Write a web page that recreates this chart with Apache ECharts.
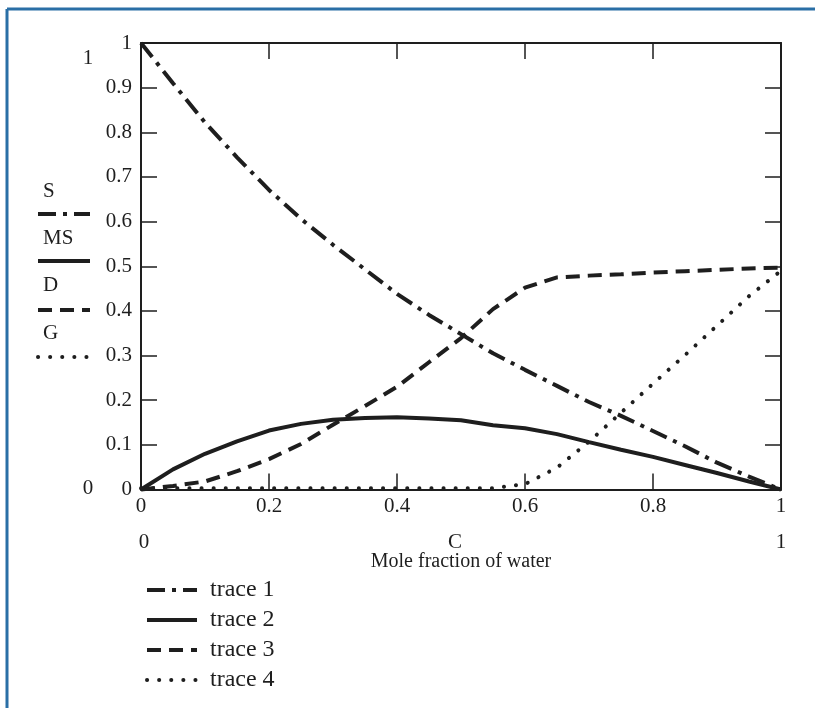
<!DOCTYPE html>
<html>
<head>
<meta charset="utf-8">
<script src="https://cdn.jsdelivr.net/npm/echarts@6/dist/echarts.min.js"></script>
<style>
html,body{margin:0;padding:0;background:#fff;}
#chart{width:815px;height:708px;}
</style>
</head>
<body>
<div id="chart"></div>
<script>
// ---- data ----
const xs = [0,0.05,0.1,0.15,0.2,0.25,0.3,0.35,0.4,0.45,0.5,0.55,0.6,0.65,0.7,0.75,0.8,0.85,0.9,0.95,1];
const S  = [1,0.91,0.822,0.744,0.671,0.606,0.548,0.493,0.438,0.391,0.348,0.305,0.268,0.232,0.196,0.165,0.131,0.097,0.06,0.029,0];
const MS = [0,0.045,0.08,0.108,0.132,0.147,0.156,0.16,0.162,0.159,0.155,0.144,0.137,0.124,0.106,0.089,0.073,0.055,0.037,0.018,0];
const D  = [0,0.008,0.018,0.041,0.068,0.102,0.145,0.187,0.23,0.285,0.339,0.404,0.452,0.475,0.479,0.482,0.486,0.489,0.492,0.495,0.497];
const G  = [0.003,0.003,0.003,0.003,0.003,0.003,0.003,0.003,0.003,0.003,0.003,0.003,0.012,0.049,0.107,0.172,0.237,0.301,0.367,0.433,0.49];
const traceNames = ['trace 1','trace 2','trace 3','trace 4'];
const sideLabels = ['S','MS','D','G'];

const FONT = '"Liberation Serif", "Times New Roman", serif';
const INK = '#1e1e1e';
const BLUE = '#2a6fa6';

const dashDot = [18,7,4,7];
const dashed = [14,8];
const dotted = [0.1,12];

const styles = [
  {type: dashDot, cap: 'butt', width: 4},
  {type: 'solid', cap: 'butt', width: 4},
  {type: dashed, cap: 'butt', width: 4},
  {type: dotted, cap: 'round', width: 4}
];
const seriesVals = [S, MS, D, G];

function pairs(v){ return xs.map((x,i)=>[x,v[i]]); }

const chart = echarts.init(document.getElementById('chart'));

const axisLineStyle = {color: INK, width: 2};
const tickStyle = {show: true, inside: true, length: 16, lineStyle: {color: INK, width: 1.5}};

const sideY = [191, 238, 285, 333];
const sideLineY = [214, 261, 310, 357];
const graphics = [
  {type:'line', shape:{x1:7, y1:9, x2:815, y2:9}, style:{stroke:BLUE, lineWidth:3}, silent:true},
  {type:'line', shape:{x1:7, y1:9, x2:7, y2:708}, style:{stroke:BLUE, lineWidth:3}, silent:true},
  {type:'text', x:88, y:58, style:{text:'1', font:'21px '+FONT, fill:INK, textAlign:'center', textVerticalAlign:'middle'}},
  {type:'text', x:88, y:488, style:{text:'0', font:'21px '+FONT, fill:INK, textAlign:'center', textVerticalAlign:'middle'}},
  {type:'text', x:144, y:542, style:{text:'0', font:'21px '+FONT, fill:INK, textAlign:'center', textVerticalAlign:'middle'}},
  {type:'text', x:455, y:542, style:{text:'C', font:'21px '+FONT, fill:INK, textAlign:'center', textVerticalAlign:'middle'}},
  {type:'text', x:781, y:542, style:{text:'1', font:'21px '+FONT, fill:INK, textAlign:'center', textVerticalAlign:'middle'}}
];
sideLabels.forEach((t,i)=>{
  graphics.push({type:'text', x:43, y:sideY[i], style:{text:t, font:'21px '+FONT, fill:INK, textAlign:'left', textVerticalAlign:'middle'}});
  const st = styles[i];
  graphics.push({type:'line', shape:{x1:38, y1:sideLineY[i], x2:90, y2:sideLineY[i]},
    style:{stroke:INK, lineWidth:st.width, lineDash: st.type==='solid'?null:st.type, lineCap: st.cap}, silent:true});
});

const option = {
  backgroundColor: '#fff',
  animation: false,
  grid: {left:141, top:43, width:640, height:446.5, containLabel:false},
  legend: {
    orient:'vertical', left:140, top:573, height:140, itemWidth:50, itemHeight:20, itemGap:6,
    textStyle:{fontFamily:FONT, fontSize:24, color:INK, lineHeight:20, padding:[0,0,0,8]},
    lineStyle:{width:4},
    data: traceNames.map(n=>({name:n, itemStyle:{opacity:0}})),
    selectedMode:false
  },
  xAxis: [
    {type:'value', min:0, max:1, interval:0.2, position:'bottom',
     axisLine:{show:true, onZero:false, lineStyle:axisLineStyle}, axisTick:tickStyle, splitLine:{show:false},
     axisLabel:{fontFamily:FONT, fontSize:21, color:INK, margin:6},
     name:'Mole fraction of water', nameLocation:'middle', nameGap:62,
     nameTextStyle:{fontFamily:FONT, fontSize:20, color:INK}},
    {type:'value', min:0, max:1, interval:0.2, position:'top',
     axisLine:{show:true, onZero:false, lineStyle:axisLineStyle}, axisTick:tickStyle, splitLine:{show:false},
     axisLabel:{show:false}}
  ],
  yAxis: [
    {type:'value', min:0, max:1, interval:0.1, position:'left',
     axisLine:{show:true, onZero:false, lineStyle:axisLineStyle}, axisTick:tickStyle, splitLine:{show:false},
     axisLabel:{fontFamily:FONT, fontSize:21, color:INK, margin:9}},
    {type:'value', min:0, max:1, interval:0.1, position:'right',
     axisLine:{show:true, onZero:false, lineStyle:axisLineStyle}, axisTick:tickStyle, splitLine:{show:false},
     axisLabel:{show:false}}
  ],
  series: traceNames.map((n,i)=>({
    name:n, type:'line', data:pairs(seriesVals[i]), showSymbol:false, symbol:'none', clip:false,
    lineStyle:{color:INK, width:styles[i].width, type:styles[i].type, cap:styles[i].cap},
    itemStyle:{color:INK},
    emphasis:{disabled:true}
  })),
  graphic: graphics
};
chart.setOption(option);
</script>
</body>
</html>
